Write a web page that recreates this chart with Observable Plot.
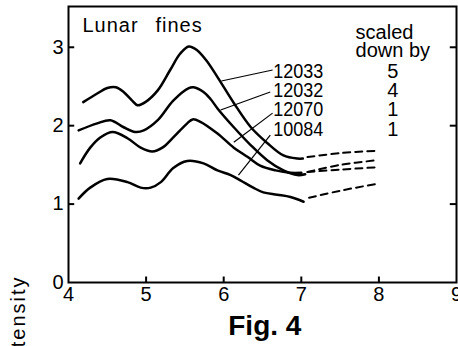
<!DOCTYPE html>
<html><head><meta charset="utf-8">
<script src="https://cdn.jsdelivr.net/npm/d3@7"></script>
<script src="https://cdn.jsdelivr.net/npm/@observablehq/plot@0.6"></script>
<style>body{margin:0;background:#fff;}</style>
</head><body><div id="chart"></div>
<script>
// ---- data ----
const sampleNames = ["12033", "12032", "12070", "10084"];
const scaleFactors = ["5", "4", "1", "1"];
const xTickLabels = [4, 5, 6, 7, 8, 9];
const yTickLabels = [0, 1, 2, 3];

const x12033 = [4.19, 4.37, 4.50, 4.61, 4.71, 4.82, 4.89, 4.99, 5.15, 5.31, 5.44, 5.55, 5.66, 5.77, 5.92, 6.13, 6.35, 6.56, 6.77, 6.95, 7.02];
const y12033 = [2.30, 2.41, 2.48, 2.49, 2.43, 2.32, 2.26, 2.30, 2.45, 2.71, 2.92, 3.01, 2.96, 2.84, 2.62, 2.29, 1.98, 1.78, 1.62, 1.58, 1.58];
const x12033d = [7.08, 7.5, 7.98];
const y12033d = [1.60, 1.65, 1.68];

const x12032 = [4.13, 4.37, 4.54, 4.71, 4.86, 4.97, 5.15, 5.35, 5.55, 5.61, 5.74, 5.83, 5.92, 6.13, 6.35, 6.56, 6.77, 6.95, 7.05];
const y12032 = [1.94, 2.03, 2.07, 1.98, 1.92, 1.94, 2.07, 2.32, 2.48, 2.49, 2.43, 2.34, 2.22, 1.98, 1.75, 1.56, 1.43, 1.37, 1.38];
const x12032d = [7.08, 7.5, 7.98];
const y12032d = [1.41, 1.50, 1.56];

const x12070 = [4.15, 4.28, 4.41, 4.57, 4.76, 4.93, 5.08, 5.21, 5.35, 5.53, 5.60, 5.70, 5.92, 6.13, 6.31, 6.47, 6.67, 6.86, 7.00];
const y12070 = [1.52, 1.72, 1.85, 1.92, 1.84, 1.72, 1.67, 1.72, 1.85, 2.03, 2.08, 2.05, 1.90, 1.72, 1.60, 1.49, 1.43, 1.40, 1.40];
const x12070d = [7.08, 7.5, 7.98];
const y12070d = [1.41, 1.44, 1.47];

const x10084 = [4.13, 4.28, 4.50, 4.76, 4.93, 5.06, 5.19, 5.35, 5.53, 5.74, 5.92, 6.09, 6.22, 6.38, 6.51, 6.69, 6.86, 7.03];
const y10084 = [1.07, 1.21, 1.32, 1.28, 1.21, 1.21, 1.28, 1.46, 1.55, 1.52, 1.43, 1.37, 1.30, 1.21, 1.15, 1.12, 1.09, 1.03];
const x10084d = [7.10, 7.5, 7.98];
const y10084d = [1.08, 1.17, 1.26];

// ---- build tables ----
const solidSets = [[x12033, y12033], [x12032, y12032], [x12070, y12070], [x10084, y10084]];
const dashSets = [[x12033d, y12033d], [x12032d, y12032d], [x12070d, y12070d], [x10084d, y10084d]];
const toRows = (sets) => sets.flatMap(([xs, ys], i) => xs.map((x, j) => ({name: sampleNames[i], x, y: ys[j]})));
const solid = toRows(solidSets);
const dashed = toRows(dashSets);

// annotation anchors (data units)
const labelRowsY = [2.69, 2.45, 2.21, 1.95];
const labels = sampleNames.map((n, i) => ({n, f: scaleFactors[i], y: labelRowsY[i]}));
const leaders = [
  {x1: 5.97, y1: 2.57, x2: 6.63, y2: 2.71},
  {x1: 5.96, y1: 2.20, x2: 6.60, y2: 2.43},
  {x1: 6.13, y1: 1.79, x2: 6.63, y2: 2.16},
  {x1: 6.19, y1: 1.37, x2: 6.60, y2: 1.88}
];

const font = "'Liberation Sans', Arial, Helvetica, sans-serif";
const intFmt = d => String(d);

const chart = Plot.plot({
  width: 458, height: 346,
  marginLeft: 68, marginRight: 2, marginTop: 6, marginBottom: 64,
  x: {domain: [4, 9]},
  y: {domain: [0, 3.52]},
  style: {fontFamily: font, fontSize: "20px", background: "white", color: "black", overflow: "visible"},
  marks: [
    Plot.axisX({ticks: xTickLabels, tickSize: 0, tickPadding: 4, tickFormat: intFmt, fontSize: 20, label: null}),
    Plot.axisY({ticks: yTickLabels, tickSize: 0, tickPadding: 5, tickFormat: intFmt, fontSize: 20, label: null}),
    // inward tick marks
    Plot.ruleX([5, 6, 7, 8], {y1: 0, y2: 0.07, stroke: "black", strokeWidth: 2}),
    Plot.ruleY([1, 2, 3], {x1: 4, x2: 4.08, stroke: "black", strokeWidth: 2}),
    Plot.ruleY([1, 2, 3], {x1: 8.92, x2: 9, stroke: "black", strokeWidth: 2}),
    Plot.frame({strokeWidth: 2}),
    Plot.line(solid, {x: "x", y: "y", z: "name", curve: "catmull-rom", stroke: "black", strokeWidth: 2.5}),
    Plot.line(dashed, {x: "x", y: "y", z: "name", curve: "catmull-rom", stroke: "black", strokeWidth: 2, strokeDasharray: "7,5"}),
    Plot.link(leaders, {x1: "x1", y1: "y1", x2: "x2", y2: "y2", stroke: "black", strokeWidth: 1.2}),
    Plot.text(labels, {x: 6.64, y: "y", text: "n", textAnchor: "start", fontSize: 20}),
    Plot.text(labels, {x: 8.18, y: "y", text: "f", textAnchor: "middle", fontSize: 20}),
    Plot.text(["scaled", "down by"], {x: 7.70, y: [3.19, 2.96], text: d => d, textAnchor: "start", fontSize: 20}),
    Plot.text(["Lunar", "fines"], {x: [4.18, 5.12], y: 3.28, text: d => d, textAnchor: "start", fontSize: 20}),
    Plot.text(["Intensity"], {x: 3.36, y: 0.09, text: d => d, rotate: -90, textAnchor: "end", fontSize: 20}),
    Plot.text(["Fig. 4"], {x: 6.53, y: -0.55, text: d => d, textAnchor: "middle", fontSize: 28, fontWeight: "bold"})
  ]
});
document.getElementById("chart").appendChild(chart);

// typographic touches
d3.select(chart).selectAll("text").each(function () {
  const t = this.textContent;
  if (sampleNames.includes(t)) { this.setAttribute("textLength", 50); this.setAttribute("lengthAdjust", "spacingAndGlyphs"); }
  if (t === "Lunar" || t === "fines" || t === "Intensity") this.setAttribute("letter-spacing", t === "Intensity" ? "2" : "1");
});
</script></body></html>
